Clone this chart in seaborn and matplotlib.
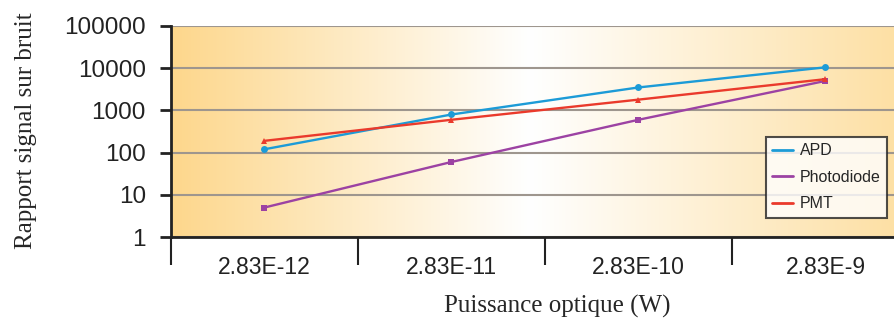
import numpy as np
import pandas as pd
import seaborn as sns
import matplotlib.pyplot as plt
from matplotlib.colors import LinearSegmentedColormap
from matplotlib.lines import Line2D

# Values
power = ["2.83E-12", "2.83E-11", "2.83E-10", "2.83E-9"]
apd = [120, 800, 3500, 10500]
photodiode = [5, 60, 600, 5000]
pmt = [190, 600, 1800, 5500]

series = ["APD", "Photodiode", "PMT"]
colors = {"APD": "#1c9bd7", "Photodiode": "#9c42a3", "PMT": "#ea3a2c"}
markers = {"APD": "o", "Photodiode": "s", "PMT": "^"}

df = pd.DataFrame({
    "power": power * 3,
    "snr": apd + photodiode + pmt,
    "detector": ["APD"] * 4 + ["Photodiode"] * 4 + ["PMT"] * 4,
})

sns.set_style("white")
plt.rcParams["font.family"] = ["Liberation Sans", "DejaVu Sans"]
serif = ["Liberation Serif", "DejaVu Serif"]

fig = plt.figure(figsize=(8.95, 3.22), dpi=100)
ax = fig.add_axes([171 / 895, 85 / 322, 748 / 895, 211 / 322])

# background gradient: orange -> white -> light orange
cmap = LinearSegmentedColormap.from_list(
    "bg", [(0.0, "#fdd78c"), (0.48, "#ffffff"), (1.0, "#fdde9f")])
grad = np.linspace(0, 1, 256).reshape(1, -1)
ax.imshow(grad, cmap=cmap, aspect="auto", extent=[0, 1, 0, 1],
          transform=ax.transAxes, zorder=0)

sns.lineplot(data=df, x="power", y="snr", hue="detector", style="detector",
             palette=colors, markers=markers, dashes=False, markersize=5,
             markeredgewidth=0, linewidth=1.7, legend=False, ax=ax, zorder=3)

ax.set_yscale("log")
ax.set_ylim(1, 100000)
ax.set_xlim(-0.5, 3.5)
ax.set_yticks([1, 10, 100, 1000, 10000, 100000])
ax.set_yticklabels(["1", "10", "100", "1000", "10000", "100000"])
ax.minorticks_off()
ax.yaxis.grid(True, color="#9e968e", linewidth=1.5)
for gl in ax.get_ygridlines():
    gl.set_zorder(1)

ax.set_xticks(range(len(power)))
ax.set_xticklabels(power)
ax.set_xticks([-0.5, 0.5, 1.5, 2.5, 3.5], minor=True)
ax.tick_params(axis="x", which="major", length=0, pad=14, labelsize=16.5,
               labelcolor="#222222")
ax.tick_params(axis="x", which="minor", length=20, width=1.5, color="#222222",
               direction="out", bottom=True)
ax.tick_params(axis="y", length=8, width=2, color="#222222", direction="out",
               left=True, pad=10, labelsize=17.5, labelcolor="#222222")

for s in ["top", "right"]:
    ax.spines[s].set_visible(False)
for s in ["left", "bottom"]:
    ax.spines[s].set_linewidth(2)
    ax.spines[s].set_color("#222222")

ax.set_xlabel("Puissance optique (W)", family=serif, fontsize=18)
ax.xaxis.set_label_coords((557 - 171) / 748, -(295 - 237) / 211)
ax.set_ylabel("Rapport signal sur bruit", family=serif, fontsize=18)
ax.yaxis.set_label_coords(-(171 - 37) / 748, (237 - 131) / 211)

handles = [Line2D([0], [0], color=colors[s], linewidth=2) for s in series]
leg = ax.legend(handles, series, loc="upper left",
                bbox_to_anchor=((766 - 171) / 748, (237 - 137) / 211),
                borderaxespad=0, frameon=True, fancybox=False,
                edgecolor="#222222", fontsize=11.5, handlelength=1.3,
                borderpad=0.4, labelspacing=0.72, handletextpad=0.4)
leg.get_frame().set_linewidth(1.5)
leg.get_frame().set_facecolor("white")
leg.set_zorder(5)

fig.savefig("out.png", dpi=100)
